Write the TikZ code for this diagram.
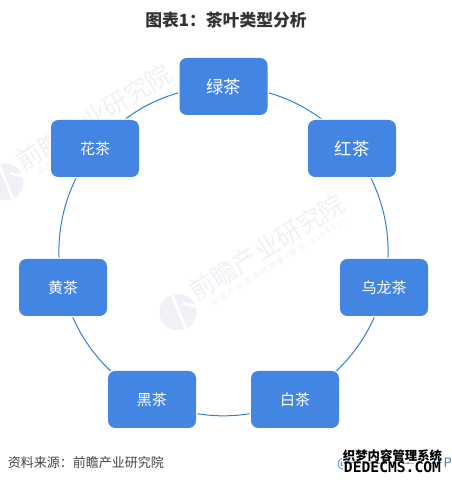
\documentclass[tikz,border=0pt]{standalone}
\usepackage{fontspec}
\setmainfont{Noto Sans CJK SC}
\newfontfamily\stampfont{DejaVu Sans Mono}
\usetikzlibrary{backgrounds}
\definecolor{teablue}{HTML}{4285E3}
\definecolor{ringblue}{HTML}{2F80D2}
\definecolor{wmgray}{HTML}{EFF1F6}
\definecolor{titlegray}{HTML}{333333}
\definecolor{srcgray}{HTML}{444444}
\tikzset{
  % scatola di un tipo di tè
  teabox/.style={preaction={draw=white, line width=2.2pt}, fill=teablue, rounded corners=5.5pt,
    minimum width=66pt, minimum height=42.75pt, align=center, text=white, inner sep=0pt,
    font=\fontsize{11.25pt}{13pt}\selectfont},
  teabig/.style={teabox, font=\fontsize{13pt}{15pt}\selectfont},
  % anello
  ring/.style={line width=0.75pt, ringblue},
  % etichette
  titlelbl/.style={font=\fontsize{12.6pt}{14pt}\selectfont\bfseries, text=titlegray, inner sep=0pt},
  srclbl/.style={font=\fontsize{9.75pt}{12pt}\selectfont, text=srcgray, inner sep=0pt},
  % filigrana
  wmtxt/.style={font=\fontsize{19pt}{21pt}\selectfont, text=wmgray, rotate=31.6, inner sep=0pt},
  wmsub/.style={font=\fontsize{6pt}{7pt}\selectfont, text=wmgray, rotate=32, inner sep=0pt},
  % timbro
  stamp/.style={font=\fontsize{9.3pt}{10pt}\selectfont\bfseries, fill=white, inner sep=0.6pt},
  stampeng/.style={font=\fontsize{11pt}{10pt}\selectfont\stampfont\bfseries, fill=white, inner sep=0.6pt,
    text height=6pt, text depth=0pt},
}
\begin{document}
\begin{tikzpicture}[x=0.75pt, y=0.75pt]
  \useasboundingbox (0,0) rectangle (452,483);
  \node[titlelbl] (title) at (226,463) {图表1：茶叶类型分析};
  % i sette tipi
  \node[teabig] (lv) at (223.5,396.5) {绿茶};
  \node[teabig] (hong) at (352,334.5) {红茶};
  \node[teabox] (wulong) at (384,195.5) {乌龙茶};
  \node[teabox] (bai) at (295,83.5) {白茶};
  \node[teabox] (hei) at (152,83.5) {黑茶};
  \node[teabox] (huang) at (63,195.5) {黄茶};
  \node[teabox] (hua) at (95,334.5) {花茶};
  \begin{scope}[on background layer]
    \clip (0,0) rectangle (452,483);
    \foreach \dx/\dy in {0/0,-173/130} {
      \begin{scope}[xshift=\dx*0.75pt, yshift=\dy*0.75pt]
        \node[wmtxt] (wmtext) at (267,236) {前瞻产业研究院};
        \node[wmsub] (wmsubtext) at (278,220) {中 国 产 业 咨 询 领 导 者 ( 股 票 : 8 3 9 5 9 9 )};
        \fill[wmgray] (178,171) circle (18.5);
        \draw[white, line width=2pt] (172,188) -- (186,154);
        \draw[white, line width=2pt] (183,180) -- (198,176);
      \end{scope}
    }
    \foreach \from/\to in {lv/hong,hong/wulong,wulong/bai,bai/hei,hei/huang,huang/hua,hua/lv}
      \draw[ring] (\from.center) to[bend left=25.7, looseness=0.9] (\to.center);
  \end{scope}
  \node[srclbl, anchor=west] (source) at (7.5,20) {资料来源：前瞻产业研究院};
  \node[srclbl, anchor=east, text=ringblue!60!gray] (credit) at (452,20) {@前瞻经济学人APP};
  % timbro in basso a destra
  \node[stamp] (stampcn) at (392.5,27.5) {织梦内容管理系统};
  \node[stampeng] (stampen) at (392.5,14.5) {DEDECMS.COM};
\end{tikzpicture}
\end{document}
